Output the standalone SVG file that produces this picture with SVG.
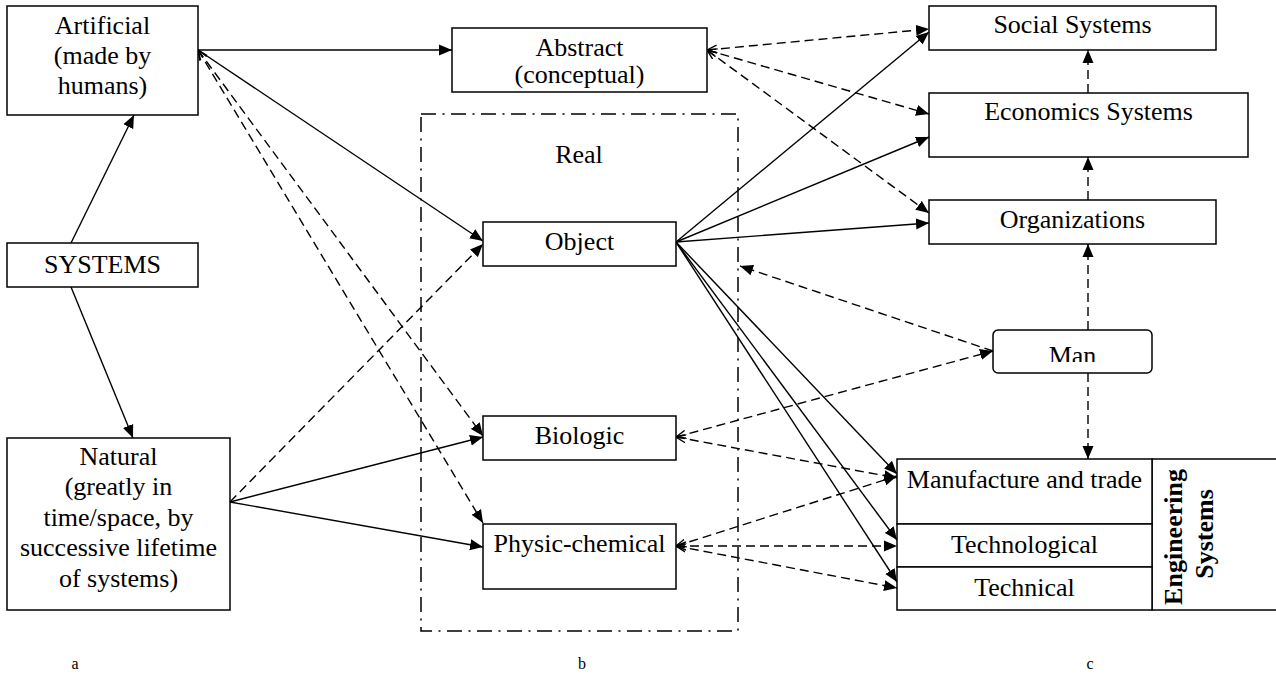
<svg xmlns="http://www.w3.org/2000/svg" width="1276" height="674" viewBox="0 0 1276 674">
<style>
.box{fill:#fff;stroke:#000;stroke-width:1.5}
.t{font-family:"Liberation Serif","Times New Roman",serif;font-size:26px;fill:#000;text-anchor:middle}
.tb{font-family:"Liberation Serif","Times New Roman",serif;font-size:26px;font-weight:bold;fill:#000;text-anchor:middle}
.lbl{font-family:"Liberation Serif","Times New Roman",serif;font-size:16px;fill:#000;text-anchor:middle}
.s{fill:none;stroke:#000;stroke-width:1.4;marker-end:url(#ah)}
.d{fill:none;stroke:#000;stroke-width:1.4;stroke-dasharray:9 5;marker-end:url(#ah)}
.o{marker-start:url(#oa)}
.real{fill:none;stroke:#000;stroke-width:1.5;stroke-dasharray:15 6.5 2 6.5}
</style>
<defs>
<marker id="ah" markerUnits="userSpaceOnUse" markerWidth="14" markerHeight="12" refX="13" refY="5.5" orient="auto" viewBox="0 0 14 11">
<path d="M0,0 L13,5.5 L0,11 z" fill="#000"/>
</marker>
<marker id="oa" markerUnits="userSpaceOnUse" markerWidth="12" markerHeight="10" refX="10" refY="4.5" orient="auto-start-reverse" viewBox="0 0 12 9">
<path d="M0,0.5 L10,4.5 L0,8.5" fill="none" stroke="#000" stroke-width="1.4"/>
</marker>
<clipPath id="manclip"><rect x="993" y="330" width="159" height="32"/></clipPath>
</defs>

<g id="real-frame">
<rect class="real" x="421" y="114" width="317" height="517"/>
<text class="t" x="579" y="163">Real</text>
</g>

<g id="connectors">
<path class="s" d="M71,243 L134,115"/>
<path class="s" d="M71,287 L133,438"/>
<path class="s" d="M198,50 L452,50"/>
<path class="s" d="M198,50 L483,241"/>
<path class="s" d="M230,502 L483,437"/>
<path class="s" d="M230,502 L483,547"/>
<path class="s" d="M676,242 L929,32"/>
<path class="s" d="M676,242 L929,137"/>
<path class="s" d="M676,242 L929,223"/>
<path class="s" d="M676,242 L897,474"/>
<path class="s" d="M676,242 L897,540"/>
<path class="s" d="M676,242 L897,582"/>

<path class="d o" d="M198,50 L483,436"/>
<path class="d o" d="M198,50 L483,523"/>
<path class="d" d="M230,502 L483,244"/>
<path class="d o" d="M707,50 L929,29"/>
<path class="d o" d="M707,50 L929,114"/>
<path class="d o" d="M707,50 L929,213"/>
<path class="d o" d="M676,437 L993,351"/>
<path class="d o" d="M676,437 L897,478"/>
<path class="d" d="M993,351 L740,266"/>
<path class="d o" d="M676,546 L897,476"/>
<path class="d o" d="M676,546 L897,546"/>
<path class="d o" d="M676,546 L897,588"/>
<path class="d" d="M1088,330 L1088,244"/>
<path class="d" d="M1088,200 L1088,157"/>
<path class="d" d="M1088,93 L1088,50"/>
<path class="d" d="M1088,373 L1088,459"/>
</g>

<g id="artificial">
<rect class="box" x="7" y="6" width="191" height="109"/>
<text class="t" x="102.5" y="34">Artificial</text>
<text class="t" x="102.5" y="64">(made by</text>
<text class="t" x="102.5" y="94">humans)</text>
</g>

<g id="systems">
<rect class="box" x="7" y="243" width="191" height="44"/>
<text class="t" x="102.5" y="273">SYSTEMS</text>
</g>

<g id="natural">
<rect class="box" x="7" y="438" width="223" height="172"/>
<text class="t" x="118.5" y="465">Natural</text>
<text class="t" x="118.5" y="495">(greatly in</text>
<text class="t" x="118.5" y="526">time/space, by</text>
<text class="t" x="118.5" y="556">successive lifetime</text>
<text class="t" x="118.5" y="587">of systems)</text>
</g>

<g id="abstract">
<rect class="box" x="452" y="28" width="255" height="64"/>
<text class="t" x="579.5" y="56">Abstract</text>
<text class="t" x="579.5" y="83">(conceptual)</text>
</g>

<g id="object">
<rect class="box" x="483" y="222" width="193" height="44"/>
<text class="t" x="579.5" y="250">Object</text>
</g>

<g id="biologic">
<rect class="box" x="483" y="416" width="193" height="44"/>
<text class="t" x="579.5" y="444">Biologic</text>
</g>

<g id="physic-chemical">
<rect class="box" x="483" y="524" width="193" height="65"/>
<text class="t" x="579.5" y="552">Physic-chemical</text>
</g>

<g id="social">
<rect class="box" x="929" y="6" width="287" height="44"/>
<text class="t" x="1072.5" y="33">Social Systems</text>
</g>

<g id="economics">
<rect class="box" x="929" y="93" width="319" height="64"/>
<text class="t" x="1088.5" y="120">Economics Systems</text>
</g>

<g id="organizations">
<rect class="box" x="929" y="200" width="287" height="44"/>
<text class="t" x="1072.5" y="228">Organizations</text>
</g>

<g id="man">
<rect class="box" x="993" y="330" width="159" height="43" rx="5" ry="5"/>
<text class="t" x="1072.5" y="364" clip-path="url(#manclip)">Man</text>
</g>

<g id="engineering">
<rect class="box" x="1152" y="459" width="130" height="151"/>
<text class="tb" transform="translate(1182,537) rotate(-90)">Engineering</text>
<text class="tb" transform="translate(1213,534) rotate(-90)">Systems</text>
</g>

<g id="manufacture">
<rect class="box" x="897" y="459" width="255" height="65"/>
<text class="t" x="1024.5" y="488">Manufacture and trade</text>
</g>

<g id="technological">
<rect class="box" x="897" y="524" width="255" height="43"/>
<text class="t" x="1024.5" y="553">Technological</text>
</g>

<g id="technical">
<rect class="box" x="897" y="567" width="255" height="43"/>
<text class="t" x="1024.5" y="596">Technical</text>
</g>

<g id="labels">
<text class="lbl" x="75" y="669">a</text>
<text class="lbl" x="582" y="669">b</text>
<text class="lbl" x="1090" y="669">c</text>
</g>
</svg>
